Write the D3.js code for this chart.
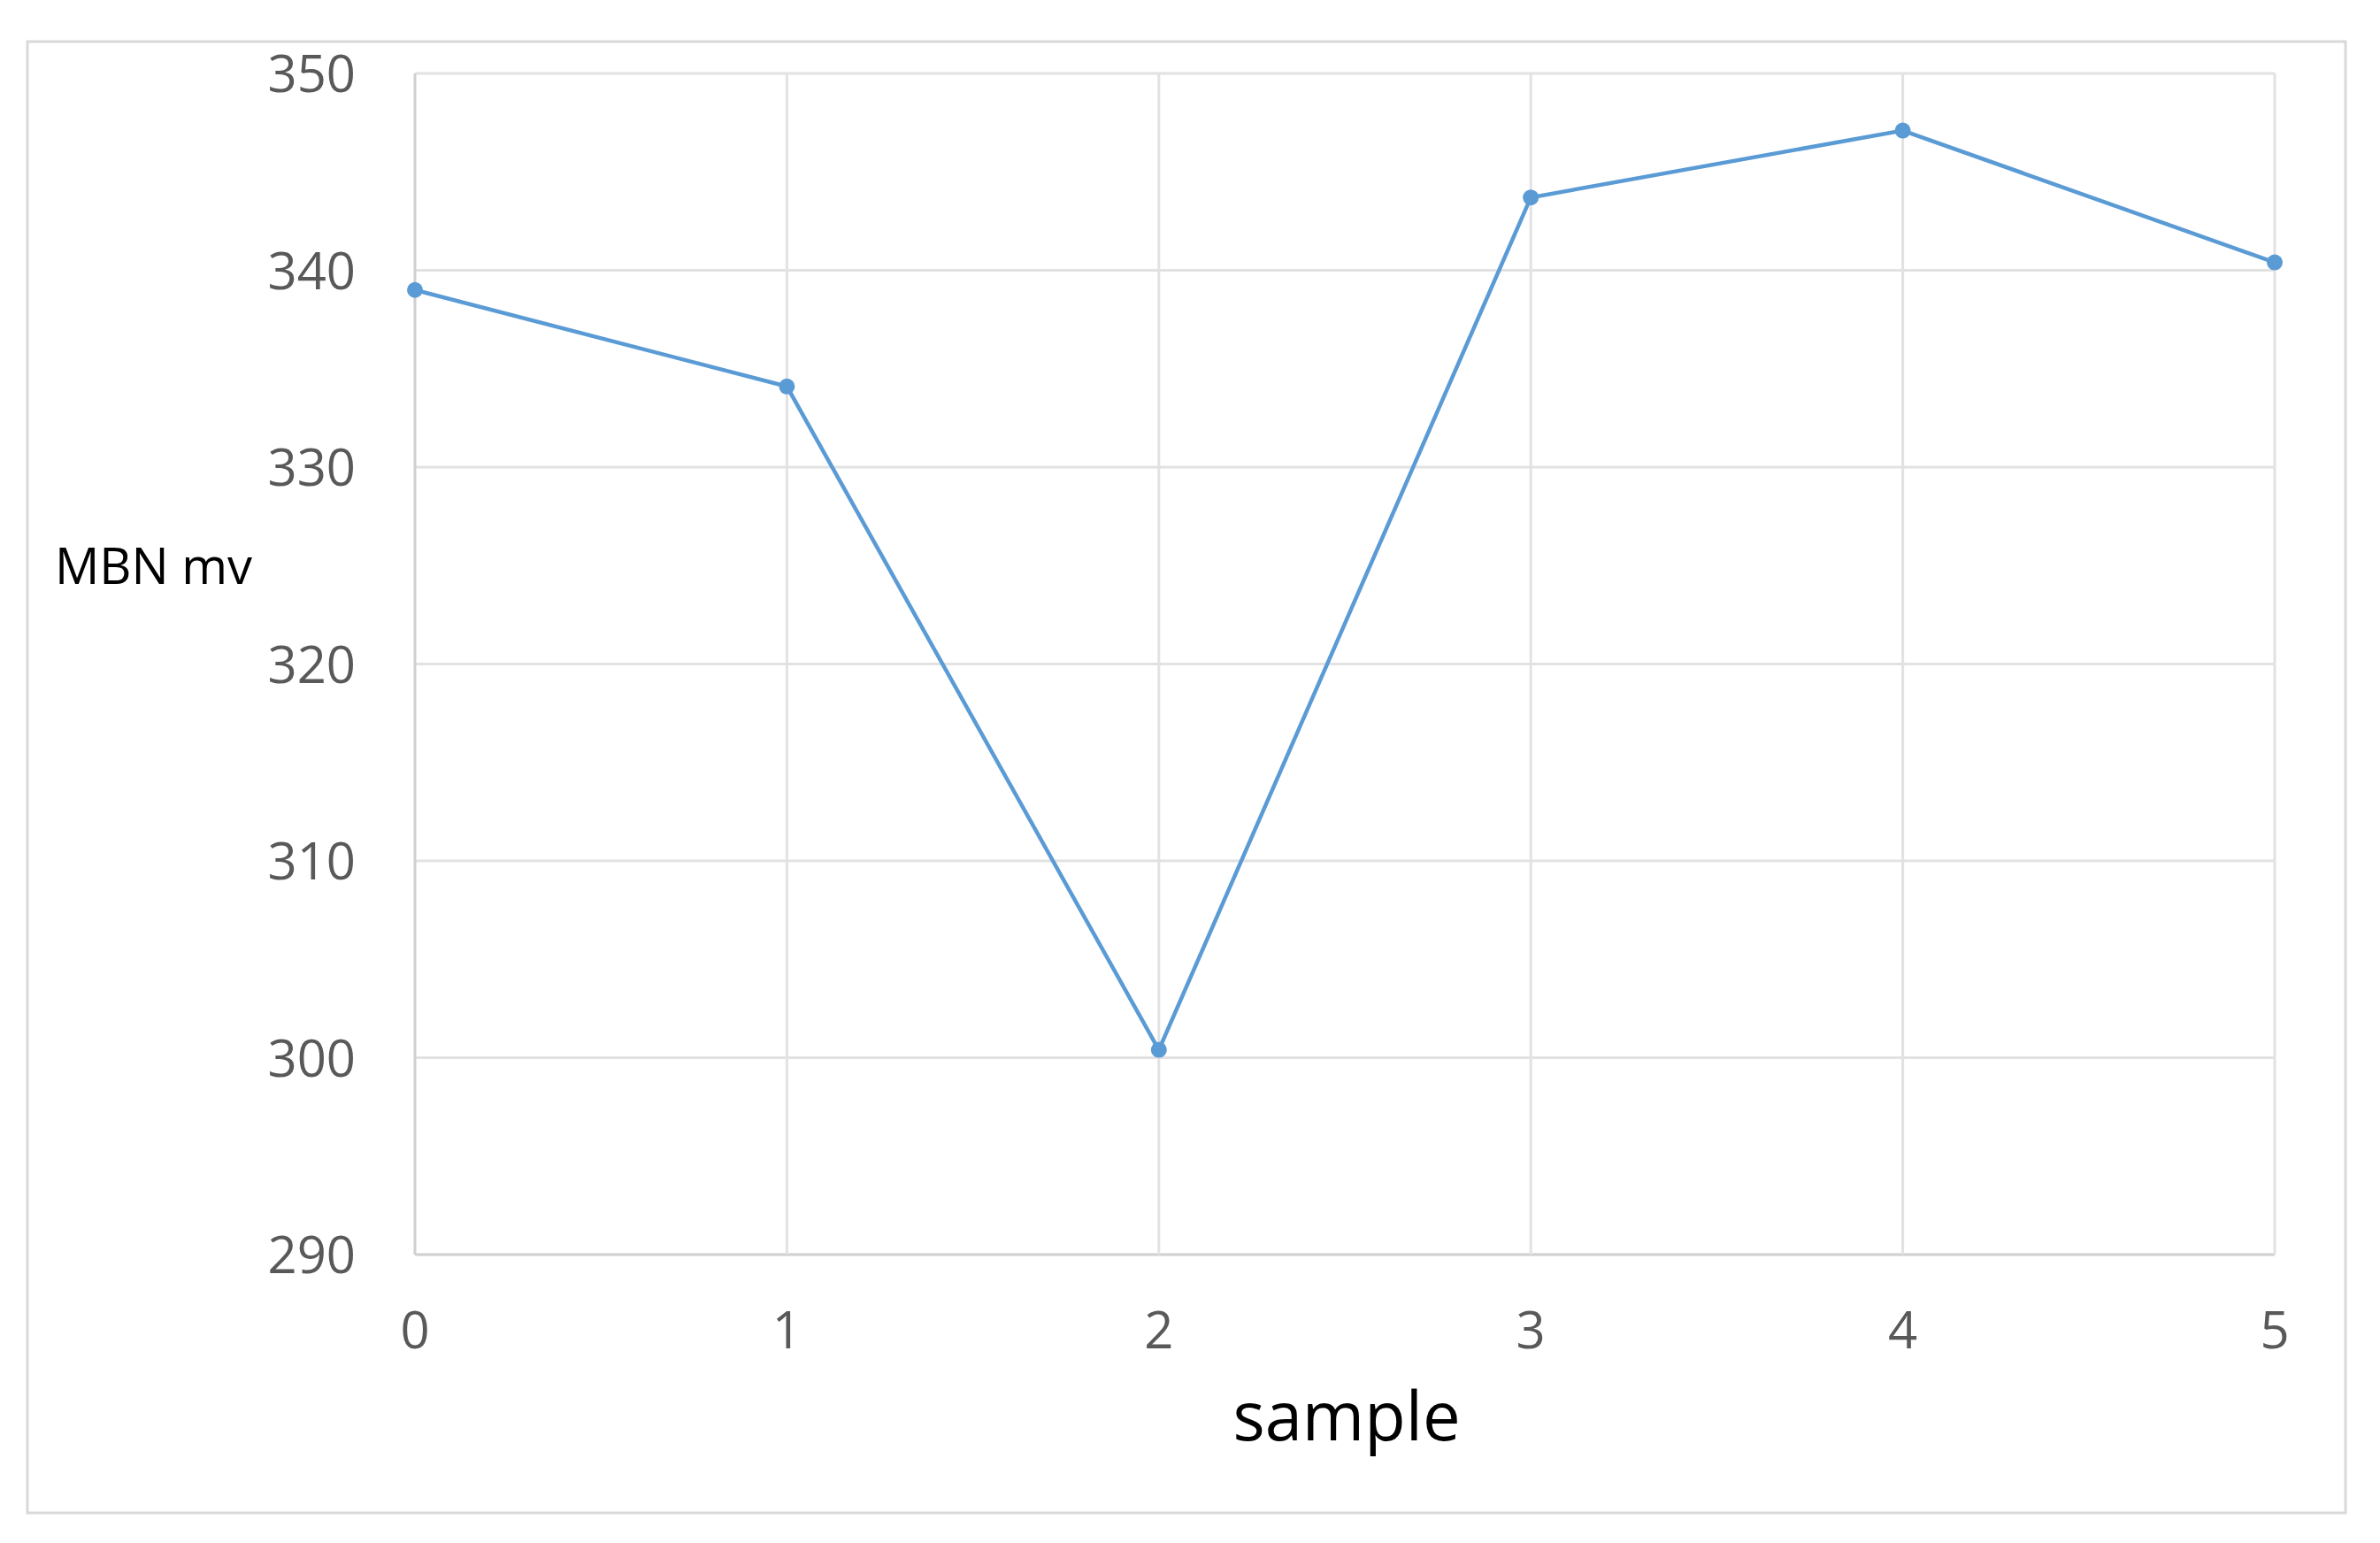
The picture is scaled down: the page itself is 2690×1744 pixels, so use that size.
<!DOCTYPE html><html><head><meta charset="utf-8">
<script src="https://cdn.jsdelivr.net/npm/d3@7"></script>
<style>body{margin:0;background:#fff}</style></head><body>
<script>
const samples=[0,1,2,3,4,5];
const mbn=[339.0,334.1,300.4,343.7,347.1,340.4];
const yTicks=[290,300,310,320,330,340,350];
const W=2690,H=1744;
const svg=d3.select("body").append("svg").attr("width",W).attr("height",H);
svg.append("rect").attr("x",31).attr("y",47).attr("width",2620).attr("height",1663).attr("fill","#fff").attr("stroke","#d9d9d9").attr("stroke-width",3);
const x=d3.scaleLinear().domain([0,5]).range([469,2571]);
const y=d3.scaleLinear().domain([290,350]).range([1418,83]);
const font="'Open Sans', sans-serif";
svg.append("g").selectAll("line").data(yTicks).join("line")
 .attr("x1",x(0)).attr("x2",x(5)).attr("y1",d=>y(d)).attr("y2",d=>y(d))
 .attr("stroke",d=>d===290?"#cfcfcf":"#e2e2e2").attr("stroke-width",3);
svg.append("g").selectAll("line").data(samples).join("line")
 .attr("x1",d=>x(d)).attr("x2",d=>x(d)).attr("y1",y(350)).attr("y2",y(290))
 .attr("stroke",d=>d===0?"#cfcfcf":"#e2e2e2").attr("stroke-width",3);
svg.append("g").selectAll("text").data(yTicks).join("text")
 .attr("x",402).attr("y",d=>y(d)+21).attr("text-anchor","end")
 .attr("font-family",font).attr("font-size",58).attr("fill","#595959").text(d=>d);
svg.append("g").selectAll("text").data(samples).join("text")
 .attr("x",d=>x(d)).attr("y",1524).attr("text-anchor","middle")
 .attr("font-family",font).attr("font-size",58).attr("fill","#595959").text(d=>d);
svg.append("text").attr("x",62).attr("y",660).attr("font-family",font).attr("font-size",56).attr("fill","#000").text("MBN mv");
svg.append("text").attr("x",1522).attr("y",1628).attr("text-anchor","middle").attr("font-family",font).attr("font-size",76).attr("fill","#000").text("sample");
const line=d3.line().x((d,i)=>x(samples[i])).y(d=>y(d));
svg.append("path").datum(mbn).attr("d",line).attr("fill","none").attr("stroke","#5b9bd5").attr("stroke-width",4.5);
svg.append("g").selectAll("circle").data(mbn).join("circle")
 .attr("cx",(d,i)=>x(samples[i])).attr("cy",d=>y(d)).attr("r",9).attr("fill","#5b9bd5");
</script></body></html>
